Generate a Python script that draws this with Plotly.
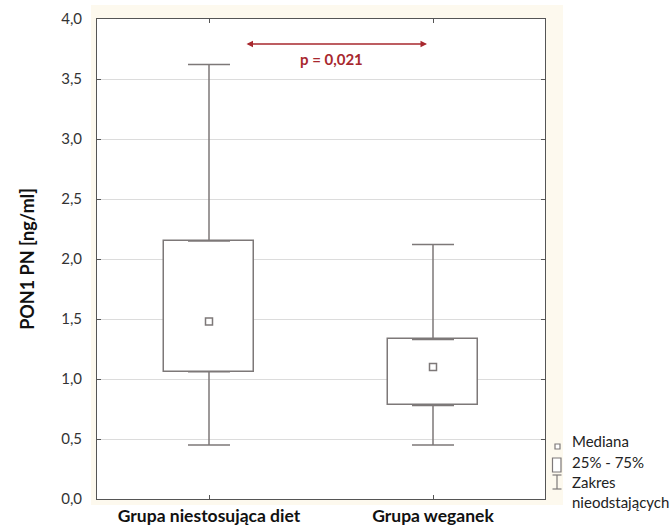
import plotly.graph_objects as go

# Summary statistics of PON1 PN concentration per group (ng/ml)
groups = ["Grupa niestosująca diet", "Grupa weganek"]
medians = [1.48, 1.10]
q1 = [1.06, 0.78]
q3 = [2.15, 1.33]
lower = [0.45, 0.45]
upper = [3.62, 2.12]
p_label = "p = 0,021"
y_ticks = [0.0, 0.5, 1.0, 1.5, 2.0, 2.5, 3.0, 3.5, 4.0]

W, H = 670, 525
L, R, T, B = 97, 125, 19, 26
PW, PH = W - L - R, H - T - B

box_col = "#7d7878"
red = "#a8282e"
font_main = "Lato, Carlito, Calibri, sans-serif"


def px(xp):
    return (xp - L) / PW


def py(yp):
    return (H - B - yp) / PH


fig = go.Figure()

# Interquartile boxes
fig.add_trace(go.Bar(
    x=groups,
    base=q1,
    y=[b - a for a, b in zip(q1, q3)],
    width=0.4,
    marker=dict(color="white", line=dict(color=box_col, width=1.5)),
    hoverinfo="skip",
))

# Whiskers: upward from Q3 and downward from Q1
wx, wy, wup, wdn = [], [], [], []
for g, a, b, lo, hi in zip(groups, q1, q3, lower, upper):
    wx += [g, g]
    wy += [b, a]
    wup += [hi - b, 0]
    wdn += [0, a - lo]
fig.add_trace(go.Scatter(
    x=wx, y=wy, mode="markers",
    marker=dict(size=1, color="rgba(0,0,0,0)"),
    error_y=dict(type="data", symmetric=False, array=wup, arrayminus=wdn,
                 color=box_col, thickness=1.5, width=21),
    hoverinfo="skip",
))

# Medians
fig.add_trace(go.Scatter(
    x=groups, y=medians, mode="markers",
    marker=dict(symbol="square-open", size=7, color=box_col,
                line=dict(width=1.5, color=box_col)),
    hoverinfo="skip",
))

shapes = [
    # faint cream panel behind the plot frame
    dict(type="rect", xref="paper", yref="paper", layer="below",
         x0=px(91), x1=px(563), y0=py(505), y1=py(5),
         fillcolor="#fdf9ee", line=dict(width=0)),
    dict(type="rect", xref="paper", yref="paper", layer="below",
         x0=0, x1=1, y0=0, y1=1, fillcolor="white", line=dict(width=0)),
    # key: median marker
    dict(type="rect", xref="paper", yref="paper",
         x0=px(555), x1=px(560), y0=py(449), y1=py(444),
         line=dict(color=box_col, width=1.2), fillcolor="white"),
    # key: interquartile box
    dict(type="rect", xref="paper", yref="paper",
         x0=px(552.5), x1=px(561), y0=py(472), y1=py(458),
         line=dict(color=box_col, width=1.2), fillcolor="white"),
    # key: whisker range
    dict(type="line", xref="paper", yref="paper",
         x0=px(557), x1=px(557), y0=py(489), y1=py(475),
         line=dict(color=box_col, width=1.2)),
    dict(type="line", xref="paper", yref="paper",
         x0=px(552.5), x1=px(561.5), y0=py(475), y1=py(475),
         line=dict(color=box_col, width=1.2)),
    dict(type="line", xref="paper", yref="paper",
         x0=px(552.5), x1=px(561.5), y0=py(489), y1=py(489),
         line=dict(color=box_col, width=1.2)),
]

key_labels = ["Mediana", "25% - 75%", "Zakres", "nieodstających"]
key_y = [441, 462, 482, 502]
annotations = [
    dict(xref="paper", yref="paper", x=px(570), y=py(yy), text=t,
         showarrow=False, xanchor="left", yanchor="middle",
         font=dict(family=font_main, size=15, color="#222"))
    for t, yy in zip(key_labels, key_y)
]

# significance bracket
arrow_x0, arrow_x1, arrow_y = 245, 427, 44
annotations.append(dict(
    xref="paper", yref="paper", x=px(arrow_x1), y=py(arrow_y),
    ax=-(arrow_x1 - arrow_x0), ay=0,
    text="", showarrow=True,
    arrowhead=2, startarrowhead=2, arrowside="end+start",
    arrowsize=1, arrowwidth=1.3, arrowcolor=red,
))
annotations.append(dict(
    xref="paper", yref="paper", x=px(331), y=py(59), text=f"<b>{p_label}</b>",
    showarrow=False, xanchor="center", yanchor="middle",
    font=dict(family=font_main, size=15, color=red),
))

fig.update_layout(
    width=W, height=H,
    margin=dict(l=L, r=R, t=T, b=B, pad=0),
    paper_bgcolor="white", plot_bgcolor="rgba(0,0,0,0)",
    showlegend=False,
    separators=", ",
    font=dict(family=font_main, color="#222"),
    shapes=shapes,
    annotations=annotations,
    bargap=0,
)

fig.update_xaxes(
    type="category", range=[-0.5, 1.5], automargin=False,
    showline=True, linecolor="#555", linewidth=1, mirror="ticks",
    ticks="inside", ticklen=4, tickcolor="#555",
    showgrid=False, zeroline=False,
    tickfont=dict(family=font_main, size=17.5, color="#111"),
    ticklabelstandoff=1,
    tickvals=groups, ticktext=[f"<b>{g}</b>" for g in groups],
)
fig.update_yaxes(
    range=[0, 4], tickvals=y_ticks, tickformat=".1f", automargin=False,
    showline=True, linecolor="#555", linewidth=1, mirror="ticks",
    ticks="inside", ticklen=4, tickcolor="#555",
    showgrid=True, gridcolor="#dcdcdc", gridwidth=1, zeroline=False,
    tickfont=dict(family=font_main, size=15, color="#333"),
    ticklabelstandoff=11,
    title=dict(text="<b>PON1 PN [ng/ml]</b>", standoff=21,
               font=dict(family=font_main, size=18, color="#111")),
)

fig.write_html("out.html")
